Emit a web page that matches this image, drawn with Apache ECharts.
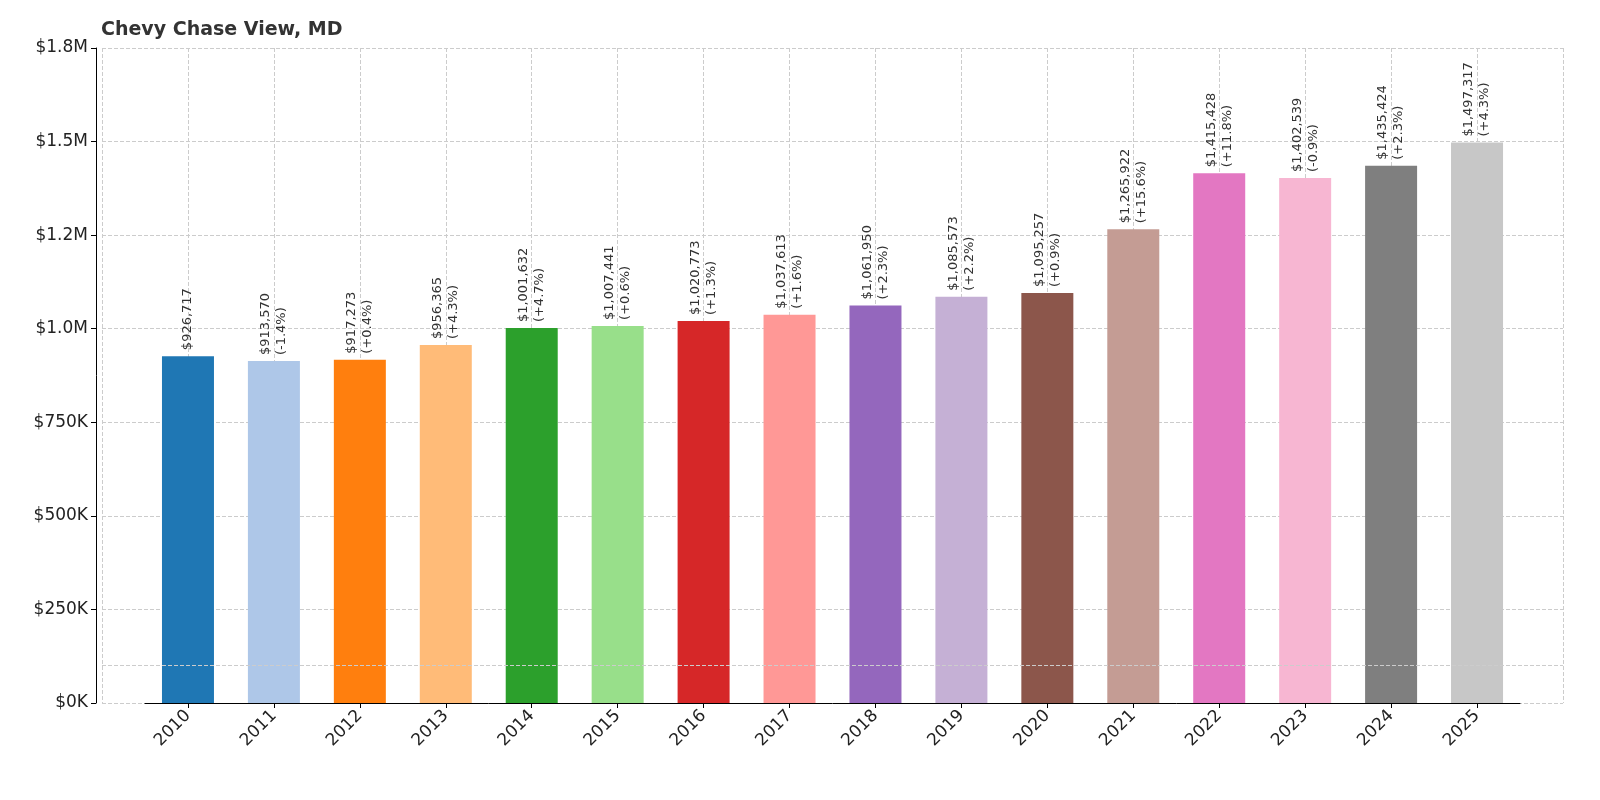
<!DOCTYPE html>
<html>
<head>
  <meta charset="utf-8">
  <style>html,body{margin:0;padding:0;background:#fff;}</style>
</head>
<body>
  <div id="main" style="width:1600px;height:800px;"></div>
</body>
<script src="https://cdn.jsdelivr.net/npm/echarts@6/dist/echarts.min.js"></script>
<script>
  let years = ['2010','2011','2012','2013','2014','2015','2016','2017','2018','2019','2020','2021','2022','2023','2024','2025'];
  let values = [926717, 913570, 917273, 956365, 1001632, 1007441, 1020773, 1037613, 1061950, 1085573, 1095257, 1265922, 1415428, 1402539, 1435424, 1497317];
  let changes = ['', '-1.4%', '+0.4%', '+4.3%', '+4.7%', '+0.6%', '+1.3%', '+1.6%', '+2.3%', '+2.2%', '+0.9%', '+15.6%', '+11.8%', '-0.9%', '+2.3%', '+4.3%'];
  let colors = ['#1f77b4','#aec7e8','#ff7f0e','#ffbb78','#2ca02c','#98df8a','#d62728','#ff9896','#9467bd','#c5b0d5','#8c564b','#c49c94','#e377c2','#f7b6d2','#7f7f7f','#c7c7c7'];
  let tickNames = { 0: '$0K', 250000: '$250K', 500000: '$500K', 750000: '$750K', 1000000: '$1.0M', 1250000: '$1.2M', 1500000: '$1.5M', 1750000: '$1.8M' };
  let gridSlots = years.concat(['']);

  let font = 'DejaVu Sans';
  var myChart = echarts.init(document.getElementById('main'));

  option = {
    animation: false,
    title: {
      text: 'Chevy Chase View, MD',
      left: 96, top: 16,
      textStyle: { fontFamily: font, fontSize: 19, fontWeight: 'bold', color: '#333' }
    },
    grid: [
      { left: 145, right: 80, top: 48, bottom: 97 },
      { left: 102, right: 37, top: 48, bottom: 97 }
    ],
    xAxis: [{
      type: 'category',
      data: years,
      gridIndex: 0,
      axisLine: { lineStyle: { color: '#000' } },
      axisTick: { show: true, alignWithLabel: true, lineStyle: { color: '#000' } },
      axisLabel: { rotate: 45, fontFamily: font, fontSize: 17, color: '#222', margin: 10 }
    }, {
      // only provides the vertical dashed grid lines at bar centres
      type: 'category',
      data: gridSlots,
      gridIndex: 1,
      axisLine: { show: false }, axisTick: { show: false }, axisLabel: { show: false },
      splitLine: { show: true, lineStyle: { type: 'dashed', color: '#ccc' } }
    }],
    yAxis: [{
      type: 'value', min: 0, max: 1750000, interval: 250000,
      gridIndex: 0, offset: 49,
      axisLine: { show: true, lineStyle: { color: '#000' } },
      axisTick: { show: true, lineStyle: { color: '#000' } },
      axisLabel: { fontFamily: font, fontSize: 17, color: '#222', formatter: v => tickNames[v] },
      splitLine: { show: false }
    }, {
      type: 'value', min: 0, max: 1750000, interval: 250000,
      gridIndex: 1,
      axisLine: { show: false }, axisTick: { show: false }, axisLabel: { show: false },
      splitLine: { lineStyle: { type: 'dashed', color: '#ccc' } }
    }],
    series: [{
      type: 'line',
      xAxisIndex: 1, yAxisIndex: 1,
      data: [],
      z: 1,
      markLine: {
        silent: true, symbol: 'none',
        lineStyle: { type: 'dashed', color: '#ccc', width: 1 },
        label: { show: false },
        data: [{ yAxis: 100000 }]
      }
    }, {
      type: 'bar',
      barWidth: 52,
      z: 3,
      data: values.map((v, i) => ({ value: v, itemStyle: { color: colors[i] } })),
      label: {
        show: true, position: 'top', rotate: 90, align: 'left', verticalAlign: 'middle',
        distance: 6, fontFamily: font, fontSize: 13, color: '#333', lineHeight: 16,
        formatter: p => '$' + values[p.dataIndex].toLocaleString('en-US') +
          (changes[p.dataIndex] ? '\n(' + changes[p.dataIndex] + ')' : '')
      },
      markLine: {
        silent: true, symbol: 'none',
        lineStyle: { opacity: 0 },
        label: { position: 'start', formatter: '$100K', fontFamily: font, fontSize: 17, color: '#222', distance: 57 },
        data: [{ yAxis: 100000 }]
      }
    }]
  };

  myChart.setOption(option);
</script>
</html>
